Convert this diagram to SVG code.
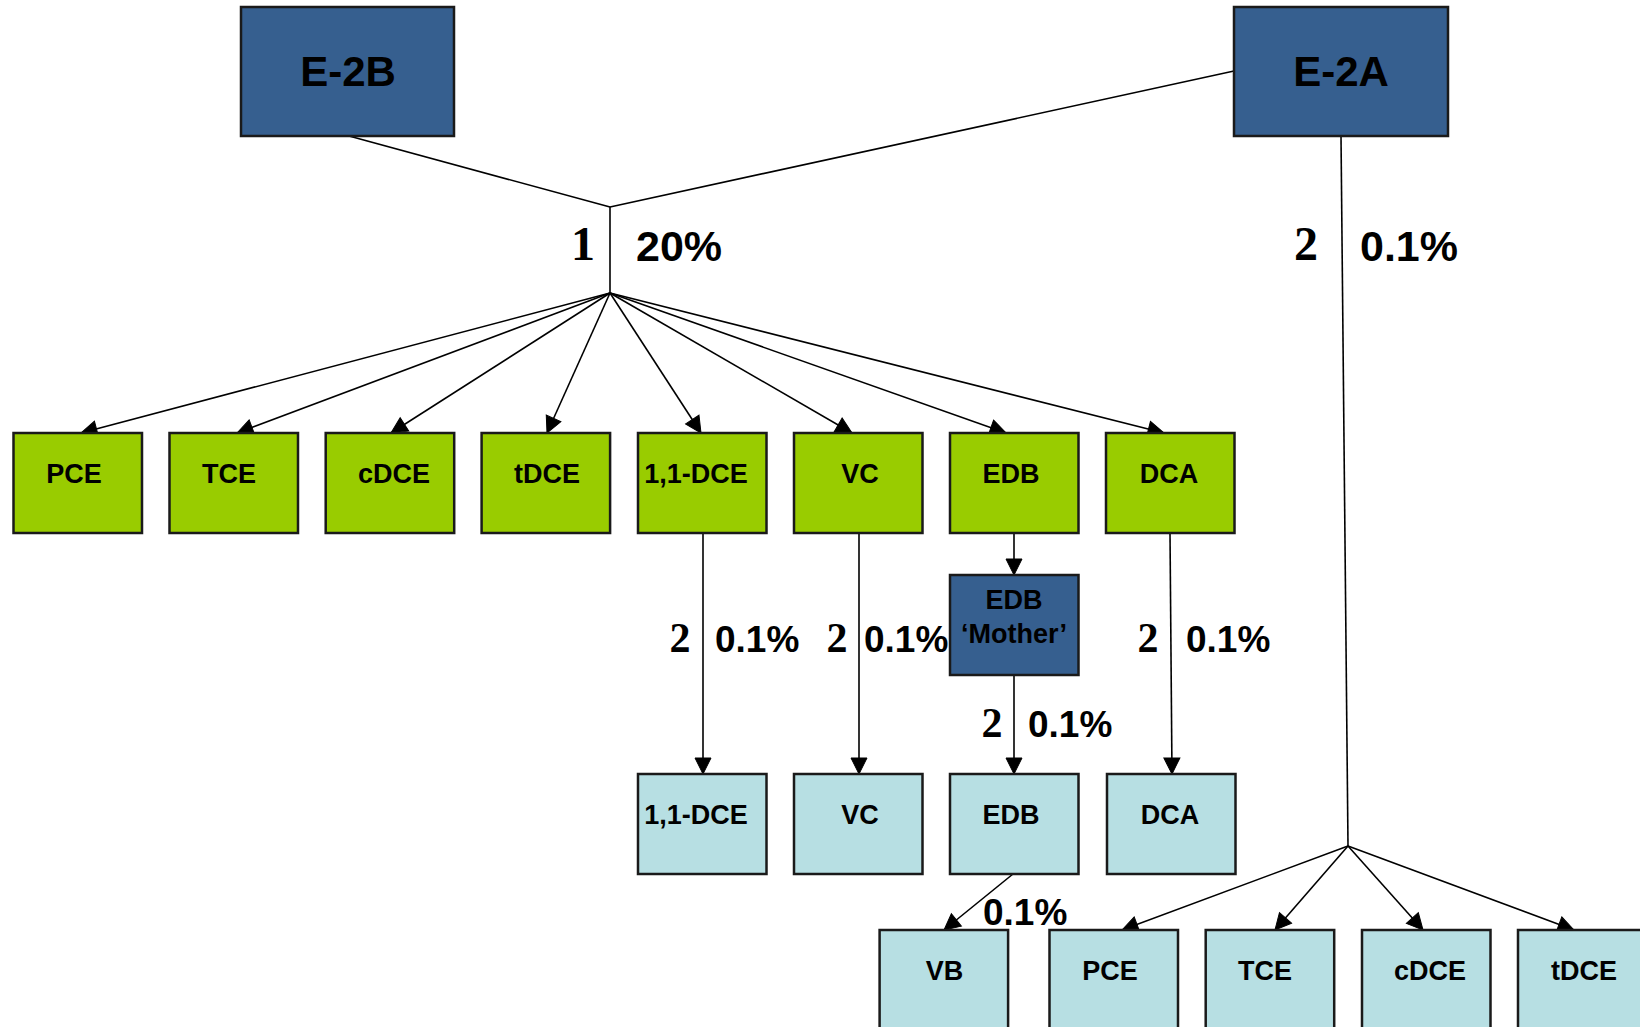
<svg xmlns="http://www.w3.org/2000/svg" width="1640" height="1027" viewBox="0 0 1640 1027">
<defs>
<marker id="arr" viewBox="-1 -1 18 18" refX="16" refY="8" markerWidth="18" markerHeight="18" markerUnits="userSpaceOnUse" orient="auto">
<path d="M0,0 L16,8 L0,16 z" fill="#000" stroke="#000" stroke-width="1" stroke-linejoin="miter"/>
</marker>
<style>
.dark{fill:#365F8F;stroke:#1a1a1a;stroke-width:2.5}
.green{fill:#99CC00;stroke:#1a1a1a;stroke-width:2.5}
.light{fill:#B7DFE3;stroke:#1a1a1a;stroke-width:2.5}
.big{font-family:"Liberation Sans",Arial,sans-serif;font-weight:bold;font-size:42px;text-anchor:middle;fill:#000}
.lbl{font-family:"Liberation Sans",Arial,sans-serif;font-weight:bold;font-size:27px;text-anchor:middle;fill:#000}
.pct{font-family:"Liberation Sans",Arial,sans-serif;font-weight:bold;font-size:43px;fill:#000}
.pcts{font-family:"Liberation Sans",Arial,sans-serif;font-weight:bold;font-size:37px;fill:#000}
.num{font-family:"Liberation Serif","Times New Roman",serif;font-weight:bold;font-size:48px;text-anchor:middle;fill:#000}
.nums{font-family:"Liberation Serif","Times New Roman",serif;font-weight:bold;font-size:42px;text-anchor:middle;fill:#000}
.c{stroke:#000;stroke-width:1.6;fill:none}
.a{stroke:#000;stroke-width:1.6;fill:none;marker-end:url(#arr)}
</style>
</defs>
<rect width="1640" height="1027" fill="#fff"/>

<g id="connectors">
<line class="c" x1="349" y1="136" x2="610" y2="207"/>
<line class="c" x1="1234" y1="71" x2="610" y2="207"/>
<line class="c" x1="610" y1="207" x2="610" y2="293"/>
<line class="a" x1="610" y1="293" x2="81" y2="433"/>
<line class="a" x1="610" y1="293" x2="237" y2="433"/>
<line class="a" x1="610" y1="293" x2="391" y2="433"/>
<line class="a" x1="610" y1="293" x2="547" y2="433"/>
<line class="a" x1="610" y1="293" x2="701" y2="433"/>
<line class="a" x1="610" y1="293" x2="852" y2="433"/>
<line class="a" x1="610" y1="293" x2="1006" y2="433"/>
<line class="a" x1="610" y1="293" x2="1164" y2="433"/>
<line class="a" x1="703" y1="533" x2="703" y2="774"/>
<line class="a" x1="859" y1="533" x2="859" y2="774"/>
<line class="a" x1="1014" y1="533" x2="1014" y2="575"/>
<line class="a" x1="1014" y1="675" x2="1014" y2="774"/>
<line class="a" x1="1170" y1="533" x2="1172" y2="774"/>
<line class="a" x1="1013" y1="874" x2="944" y2="930"/>
<line class="c" x1="1341" y1="136" x2="1348" y2="846"/>
<line class="a" x1="1348" y1="846" x2="1122" y2="930"/>
<line class="a" x1="1348" y1="846" x2="1275" y2="930"/>
<line class="a" x1="1348" y1="846" x2="1423" y2="930"/>
<line class="a" x1="1348" y1="846" x2="1574" y2="930"/>
</g>

<g id="edge-labels">
<text class="num" x="583" y="260">1</text>
<text class="pct" x="636" y="261">20%</text>
<text class="num" x="1306" y="260">2</text>
<text class="pct" x="1360" y="261">0.1%</text>
<text class="nums" x="680" y="652">2</text>
<text class="pcts" x="715" y="652">0.1%</text>
<text class="nums" x="837" y="652">2</text>
<text class="pcts" x="864" y="652">0.1%</text>
<text class="nums" x="1148" y="652">2</text>
<text class="pcts" x="1186" y="652">0.1%</text>
<text class="nums" x="992" y="737">2</text>
<text class="pcts" x="1028" y="737">0.1%</text>
<text class="pcts" x="983" y="925">0.1%</text>
</g>

<g id="E-2B"><rect class="dark" x="241" y="7" width="213" height="129"/><text class="big" x="348" y="86">E-2B</text></g>
<g id="E-2A"><rect class="dark" x="1234" y="7" width="214" height="129"/><text class="big" x="1341" y="86">E-2A</text></g>

<g id="g-PCE"><rect class="green" x="13.5" y="433" width="128.5" height="100"/><text class="lbl" x="74" y="483">PCE</text></g>
<g id="g-TCE"><rect class="green" x="169.5" y="433" width="128.5" height="100"/><text class="lbl" x="229" y="483">TCE</text></g>
<g id="g-cDCE"><rect class="green" x="325.7" y="433" width="128.5" height="100"/><text class="lbl" x="394" y="483">cDCE</text></g>
<g id="g-tDCE"><rect class="green" x="481.6" y="433" width="128.5" height="100"/><text class="lbl" x="547" y="483">tDCE</text></g>
<g id="g-11DCE"><rect class="green" x="638" y="433" width="128.5" height="100"/><text class="lbl" x="696" y="483">1,1-DCE</text></g>
<g id="g-VC"><rect class="green" x="794" y="433" width="128.5" height="100"/><text class="lbl" x="860" y="483">VC</text></g>
<g id="g-EDB"><rect class="green" x="950" y="433" width="128.5" height="100"/><text class="lbl" x="1011" y="483">EDB</text></g>
<g id="g-DCA"><rect class="green" x="1106" y="433" width="128.5" height="100"/><text class="lbl" x="1169" y="483">DCA</text></g>

<g id="EDB-Mother"><rect class="dark" x="950" y="575" width="128.5" height="100"/><text class="lbl" x="1014" y="609">EDB</text><text class="lbl" x="1014" y="643">‘Mother’</text></g>

<g id="l-11DCE"><rect class="light" x="638" y="774" width="128.5" height="100"/><text class="lbl" x="696" y="824">1,1-DCE</text></g>
<g id="l-VC"><rect class="light" x="794" y="774" width="128.5" height="100"/><text class="lbl" x="860" y="824">VC</text></g>
<g id="l-EDB"><rect class="light" x="950" y="774" width="128.5" height="100"/><text class="lbl" x="1011" y="824">EDB</text></g>
<g id="l-DCA"><rect class="light" x="1107" y="774" width="128.5" height="100"/><text class="lbl" x="1170" y="824">DCA</text></g>

<g id="l-VB"><rect class="light" x="879.6" y="930" width="128.5" height="100"/><text class="lbl" x="944.5" y="980">VB</text></g>
<g id="l-PCE"><rect class="light" x="1049.5" y="930" width="128.5" height="100"/><text class="lbl" x="1110" y="980">PCE</text></g>
<g id="l-TCE"><rect class="light" x="1205.7" y="930" width="128.5" height="100"/><text class="lbl" x="1265" y="980">TCE</text></g>
<g id="l-cDCE"><rect class="light" x="1362" y="930" width="128.5" height="100"/><text class="lbl" x="1430" y="980">cDCE</text></g>
<g id="l-tDCE"><rect class="light" x="1518" y="930" width="128.5" height="100"/><text class="lbl" x="1584" y="980">tDCE</text></g>
</svg>
